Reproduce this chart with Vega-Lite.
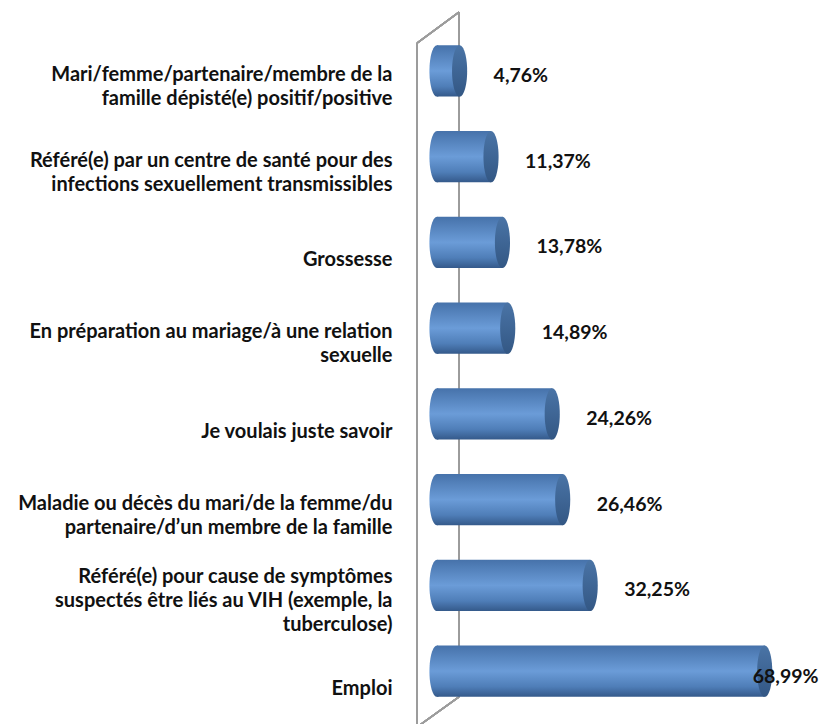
{
  "$schema": "https://vega.github.io/schema/vega-lite/v6.json",
  "width": 380,
  "height": 686,
  "autosize": "none",
  "padding": {"left": 437, "top": 28, "right": 4, "bottom": 10},
  "background": "white",
  "config": {"view": {"stroke": null}, "font": "Lato"},
  "data": {
    "values": [
      {"cat": "Mari/femme/partenaire/membre de la|famille dépisté(e) positif/positive", "value": 4.76},
      {"cat": "Référé(e) par un centre de santé pour des|infections sexuellement transmissibles", "value": 11.37},
      {"cat": "Grossesse", "value": 13.78},
      {"cat": "En préparation au mariage/à une relation|sexuelle", "value": 14.89},
      {"cat": "Je voulais juste savoir", "value": 24.26},
      {"cat": "Maladie ou décès du mari/de la femme/du|partenaire/d’un membre de la famille", "value": 26.46},
      {"cat": "Référé(e) pour cause de symptômes|suspectés être liés au VIH (exemple, la|tuberculose)", "value": 32.25},
      {"cat": "Emploi", "value": 68.99}
    ]
  },
  "resolve": {"scale": {"y": "independent"}},
  "layer": [
    {
      "mark": {"type": "rule", "color": "#9c9c9c", "strokeWidth": 1.5},
      "encoding": {
        "x": {"datum": -4.21, "type": "quantitative", "scale": {"domain": [0, 80]}, "axis": null},
        "x2": {"datum": -4.21},
        "y": {"datum": 0.978, "type": "quantitative", "scale": {"domain": [0, 1]}, "axis": null},
        "y2": {"datum": -0.03}
      }
    },
    {
      "mark": {"type": "rule", "color": "#9c9c9c", "strokeWidth": 1.5},
      "encoding": {
        "x": {"datum": -4.21, "type": "quantitative", "scale": {"domain": [0, 80]}, "axis": null},
        "x2": {"datum": 4.63},
        "y": {"datum": 0.978, "type": "quantitative", "scale": {"domain": [0, 1]}, "axis": null},
        "y2": {"datum": 1.023}
      }
    },
    {
      "mark": {"type": "rule", "color": "#9c9c9c", "strokeWidth": 1.5},
      "encoding": {
        "x": {"datum": 4.63, "type": "quantitative", "scale": {"domain": [0, 80]}, "axis": null},
        "x2": {"datum": 4.63},
        "y": {"datum": 1.023, "type": "quantitative", "scale": {"domain": [0, 1]}, "axis": null},
        "y2": {"datum": 0.025}
      }
    },
    {
      "mark": {"type": "rule", "color": "#9c9c9c", "strokeWidth": 1.5},
      "encoding": {
        "x": {"datum": 4.63, "type": "quantitative", "scale": {"domain": [0, 80]}, "axis": null},
        "x2": {"datum": -3.6},
        "y": {"datum": 0.025, "type": "quantitative", "scale": {"domain": [0, 1]}, "axis": null},
        "y2": {"datum": -0.016}
      }
    },
    {
      "encoding": {
        "y": {
          "field": "cat",
          "type": "nominal",
          "sort": null,
          "scale": {"paddingInner": 0.4, "paddingOuter": 0.2},
          "axis": {
            "title": null,
            "domain": false,
            "ticks": false,
            "labelPadding": 45,
            "labelOffset": {
              "condition": [
                {"test": "length(split(datum.value, '|')) >= 3", "value": -8},
                {"test": "indexof(datum.value, '|') >= 0", "value": 4}
              ],
              "value": 18
            },
            "labelFont": "Lato",
            "labelFontWeight": "bold",
            "labelFontSize": 20,
            "labelColor": "#111111",
            "labelLineHeight": 24,
            "labelLimit": 500,
            "labelAlign": "right",
            "labelBaseline": "middle",
            "labelExpr": "split(datum.label, '|')"
          }
        }
      },
      "layer": [
        {
          "mark": {
            "type": "bar",
            "fill": {
              "gradient": "linear", "x1": 0, "y1": 0, "x2": 0, "y2": 1,
              "stops": [
                {"offset": 0, "color": "#4672aa"},
                {"offset": 0.5, "color": "#6b9cd8"},
                {"offset": 0.8, "color": "#4f7eb8"},
                {"offset": 1, "color": "#34598a"}
              ]
            }
          },
          "encoding": {
            "x": {"field": "value", "type": "quantitative", "scale": {"domain": [0, 80]}, "axis": null}
          }
        },
        {
          "mark": {
            "type": "point",
            "filled": true,
            "opacity": 1,
            "size": 2642,
            "strokeWidth": 0,
            "shape": "M0,-1C0.1624,-1,0.294,-0.5523,0.294,0C0.294,0.5523,0.1624,1,0,1C-0.1624,1,-0.294,0.5523,-0.294,0C-0.294,-0.5523,-0.1624,-1,0,-1Z",
            "fill": {
              "gradient": "linear", "x1": 0, "y1": 0, "x2": 0, "y2": 1,
              "stops": [
                {"offset": 0, "color": "#4672aa"},
                {"offset": 0.5, "color": "#6b9cd8"},
                {"offset": 0.8, "color": "#4f7eb8"},
                {"offset": 1, "color": "#34598a"}
              ]
            }
          },
          "encoding": {
            "x": {"datum": 0, "type": "quantitative", "scale": {"domain": [0, 80]}, "axis": null}
          }
        },
        {
          "mark": {
            "type": "point",
            "filled": true,
            "opacity": 1,
            "size": 2642,
            "strokeWidth": 0,
            "shape": "M0,-1C0.1624,-1,0.294,-0.5523,0.294,0C0.294,0.5523,0.1624,1,0,1C-0.1624,1,-0.294,0.5523,-0.294,0C-0.294,-0.5523,-0.1624,-1,0,-1Z",
            "fill": {
              "gradient": "linear", "x1": 0, "y1": 0, "x2": 0, "y2": 1,
              "stops": [
                {"offset": 0, "color": "#4a74a6"},
                {"offset": 1, "color": "#335784"}
              ]
            }
          },
          "encoding": {
            "x": {"field": "value", "type": "quantitative", "scale": {"domain": [0, 80]}, "axis": null}
          }
        },
        {
          "transform": [
            {"filter": "datum.value < 60"},
            {"calculate": "replace(format(datum.value, '.2f'), '.', ',') + '%'", "as": "lbl"}
          ],
          "mark": {"type": "text", "align": "left", "baseline": "middle", "dx": 34, "dy": 5, "font": "Lato", "fontWeight": "bold", "fontSize": 19.5, "color": "#111111"},
          "encoding": {
            "x": {"field": "value", "type": "quantitative", "scale": {"domain": [0, 80]}, "axis": null},
            "text": {"field": "lbl"}
          }
        },
        {
          "transform": [
            {"filter": "datum.value >= 60"},
            {"calculate": "replace(format(datum.value, '.2f'), '.', ',') + '%'", "as": "lbl"}
          ],
          "mark": {"type": "text", "align": "left", "baseline": "middle", "dx": -12, "dy": 6, "font": "Lato", "fontWeight": "bold", "fontSize": 19.5, "color": "#111111"},
          "encoding": {
            "x": {"field": "value", "type": "quantitative", "scale": {"domain": [0, 80]}, "axis": null},
            "text": {"field": "lbl"}
          }
        }
      ]
    }
  ]
}
